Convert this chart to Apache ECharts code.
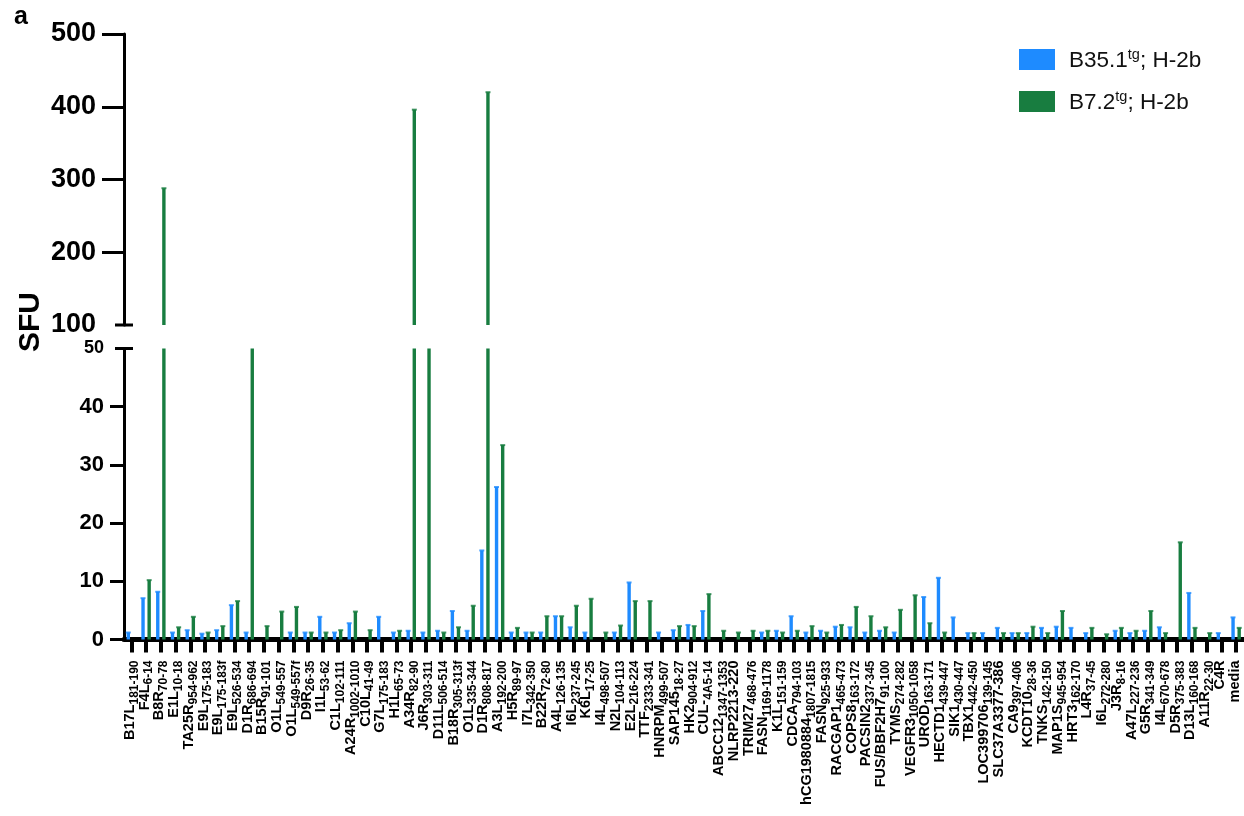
<!DOCTYPE html>
<html>
<head>
<meta charset="utf-8">
<script src="https://cdn.jsdelivr.net/npm/echarts@6/dist/echarts.min.js"></script>
<style>
html,body{margin:0;padding:0;background:#fff;}
#chart{width:1244px;height:816px;}
</style>
</head>
<body>
<div id="chart"></div>
<script>
// ---- data ----
const categories = ['B17L','F4L','B8R','E1L','TA25R','E9L','E9L','E9L','D1R','B15R','O1L','O1L','D9R','I1L','C1L','A24R','C10L','G7L','H1L','A34R','J6R','D11L','B18R','O1L','D1R','A3L','H5R','I7L','B22R','A4L','I6L','K6L','I4L','N2L','E2L','TTF','HNRPM','SAP145','HK2','CUL-','ABCC12','NLRP2213-220','TRIM27','FASN','K1L','CDCA','hCG1980884','FASN','RACGAP1','COPS8','PACSIN2','FUS/BBF2H7','TYMS','VEGFR3','UROD','HECTD1','SIK1','TBX1','LOC399706','SLC37A3377-386','CA9','KCDT10','TNKS','MAP1S','HRT3','L4R','I6L','J3R','A47L','G5R','I4L','D5R','D13L','A11R','C4R','media'];
const subscripts = ['181-190','6-14','70-78','10-18','954-962','175-183','175-183f','526-534','686-694','91-101','549-557','549-557f','26-35','53-62','102-111','1002-1010','41-49','175-183','65-73','82-90','303-311','506-514','305-313f','335-344','808-817','192-200','89-97','342-350','72-80','126-135','237-245','17-25','498-507','104-113','216-224','2333-341','499-507','18-27','904-912','4A5-14','1347-1353','','468-476','1169-1178','151-159','794-103','1807-1815','925-933','465-473','163-172','337-345','91-100','274-282','1050-1058','163-171','439-447','430-447','442-450','139-145','','397-406','28-36','142-150','945-954','162-170','37-45','272-280','8-16','227-236','341-349','670-678','375-383','160-168','22-30','',''];
const blueValues = [1.2,7.1,8.2,1.2,1.6,1.0,1.6,5.9,1.2,0,0,1.2,1.2,3.9,1.2,2.8,0,3.9,1.2,1.5,1.2,1.5,4.9,1.5,15.3,26.2,1.2,1.2,1.2,4.0,2.1,1.2,0,1.2,9.8,0,1.2,1.6,2.5,4.9,0,0,0,1.2,1.5,4.0,1.2,1.5,2.2,2.1,1.2,1.5,1.2,0,7.3,10.6,3.8,1.1,1.1,2.0,1.1,1.1,2.0,2.2,2.0,1.1,0,1.5,1.1,1.5,2.1,0,8.0,0,1.1,3.8];
const greenValues = [0,10.2,288,2.1,3.9,1.2,2.3,6.6,75,2.3,4.8,5.6,1.2,1.2,1.6,4.8,1.6,0,1.5,396,75,1.2,2.1,5.8,420,33.4,2.0,1.2,4.0,4.0,5.8,7.0,1.2,2.4,6.6,6.6,0,2.3,2.3,7.8,1.5,1.2,1.5,1.5,1.2,1.5,2.3,1.2,2.5,5.6,4.0,2.1,5.1,7.6,2.8,1.2,0,1.1,0,1.1,1.1,2.2,1.1,4.9,0,2.0,0.9,2.0,1.5,4.9,1.1,16.7,2.0,1.1,0,2.0];
const topTicks = [100,200,300,400,500];
const bottomTicks = [0,10,20,30,40,50];
const seriesNames = ['B35.1tg; H-2b','B7.2tg; H-2b'];
const legendParts = [['B35.1','tg','; H-2b'],['B7.2','tg','; H-2b']];
const colors = ['#1e8bff','#187d40'];

// ---- layout ----
const FONT = 'Liberation Sans, Arial, Helvetica, sans-serif';
const gridLeft = 124;
const bandW = 14.73;
const gridWidth = bandW * categories.length;
const panelH = 291;
const topGridTop = 34;
const bottomGridTop = 348.5;

const chart = echarts.init(document.getElementById('chart'), null, {renderer:'canvas'});

function xAxisCfg(gridIndex, show){
  return {
    type:'category', gridIndex, data: categories, boundaryGap:true, show: show,
    axisLine:{show:true, lineStyle:{color:'#000', width:5}},
    axisTick:{show:true, alignWithLabel:true, length:13, lineStyle:{color:'#000', width:4}},
    axisLabel:{
      show:true, interval:0, rotate:90, margin:21,
      formatter:(v, i) => subscripts[i] ? `{m|${v}}{s|${subscripts[i]}}` : `{m|${v}}`,
      rich:{
        m:{fontSize:14.5, fontWeight:'bold', fontFamily:FONT, color:'#000', verticalAlign:'bottom', padding:[0,0,3,0]},
        s:{fontSize:12, fontWeight:'bold', fontFamily:FONT, color:'#000', verticalAlign:'bottom'}
      }
    }
  };
}

const topData = v => v.map(x => x > 100 ? x : '-');
const capsTop = v => v.map(x => x > 100 ? x : '-');
const capsBottom = v => v.map(x => (x > 0 && x <= 50) ? x : '-');

function barSeries(i, vals, gi){
  return {
    name: seriesNames[i], type:'bar', xAxisIndex:gi, yAxisIndex:gi,
    data: vals, barWidth:3.4, barGap:'80%', itemStyle:{color:colors[i]}, clip:true,
    emphasis:{disabled:true}
  };
}
function capSeries(i, vals, gi){
  return {
    name: seriesNames[i], type:'scatter', xAxisIndex:gi, yAxisIndex:gi,
    data: vals, symbol:'rect', symbolSize:[5,2], symbolOffset:[i === 0 ? -3.1 : 3.1, 0],
    itemStyle:{color:colors[i]}, clip:true, z:3, emphasis:{disabled:true}, silent:true
  };
}

const option = {
  backgroundColor:'#fff',
  animation:false,
  title:{text:'a', left:9, top:0, textStyle:{fontSize:25, fontWeight:'bold', fontFamily:FONT, color:'#000'}},
  legend:{
    orient:'vertical', left:1014, top:42, itemWidth:36, itemHeight:21, itemGap:17,
    icon:'rect', data: seriesNames,
    formatter: name => { const p = legendParts[seriesNames.indexOf(name)]; return `{a0|${p[0]}}{sup|${p[1]}}{a|${p[2]}}`; },
    textStyle:{
      rich:{
        a0:{fontSize:22.5, fontFamily:FONT, color:'#111', verticalAlign:'bottom', padding:[0,0,0,9]},
        a:{fontSize:22.5, fontFamily:FONT, color:'#111', verticalAlign:'bottom'},
        sup:{fontSize:14.5, fontFamily:FONT, color:'#111', verticalAlign:'bottom', padding:[0,0,10,0]}
      }
    }
  },
  grid:[
    {left:gridLeft, top:topGridTop, width:gridWidth, height:panelH},
    {left:gridLeft, top:bottomGridTop, width:gridWidth, height:panelH}
  ],
  xAxis:[ xAxisCfg(0,false), xAxisCfg(1,true) ],
  yAxis:[
    {
      type:'value', gridIndex:0, min:topTicks[0], max:topTicks[topTicks.length-1], interval:100,
      splitLine:{show:false},
      axisLine:{show:true, lineStyle:{color:'#000', width:3}},
      axisTick:{show:true, length:22, lineStyle:{color:'#000', width:3}, customValues: topTicks.slice(1)},
      axisLabel:{customValues: topTicks, margin:28, fontSize:27, fontWeight:'bold', fontFamily:FONT, color:'#000'}
    },
    {
      type:'value', gridIndex:1, min:bottomTicks[0], max:bottomTicks[bottomTicks.length-1], interval:10,
      splitLine:{show:false},
      axisLine:{show:true, lineStyle:{color:'#000', width:3}},
      axisTick:{show:true, length:14, lineStyle:{color:'#000', width:3}, customValues: bottomTicks.slice(0,-1)},
      axisLabel:{customValues: bottomTicks, margin:20,
        formatter: v => v === 50 ? `{sm|${v}}` : `{bg|${v}}`,
        rich:{
          bg:{fontSize:22, fontWeight:'bold', fontFamily:FONT, color:'#000'},
          sm:{fontSize:18, fontWeight:'bold', fontFamily:FONT, color:'#000'}
        }
      }
    }
  ],
  series:[
    barSeries(0, blueValues, 1),
    barSeries(1, greenValues, 1),
    barSeries(0, topData(blueValues), 0),
    barSeries(1, topData(greenValues), 0),
    capSeries(0, capsBottom(blueValues), 1),
    capSeries(1, capsBottom(greenValues), 1),
    capSeries(0, capsTop(blueValues), 0),
    capSeries(1, capsTop(greenValues), 0)
  ]
};
chart.setOption(option);

// axis-break marks at 100 (top panel) and 50 (bottom panel), placed through the axis scales
const yBreakTop = chart.convertToPixel({yAxisIndex:0}, topTicks[0]);
const yBreakBottom = chart.convertToPixel({yAxisIndex:1}, bottomTicks[bottomTicks.length-1]);
chart.setOption({
  graphic:[
    {type:'line', shape:{x1:gridLeft-9, y1:yBreakTop, x2:gridLeft+9, y2:yBreakTop}, style:{stroke:'#000', lineWidth:3}},
    {type:'line', shape:{x1:gridLeft-9, y1:yBreakBottom, x2:gridLeft+9, y2:yBreakBottom}, style:{stroke:'#000', lineWidth:3}},
    {type:'text', left:16, top:292, rotation:Math.PI/2, style:{text:'SFU', font:'bold 30px ' + FONT, fill:'#000'}}
  ]
});
</script>
</body>
</html>
